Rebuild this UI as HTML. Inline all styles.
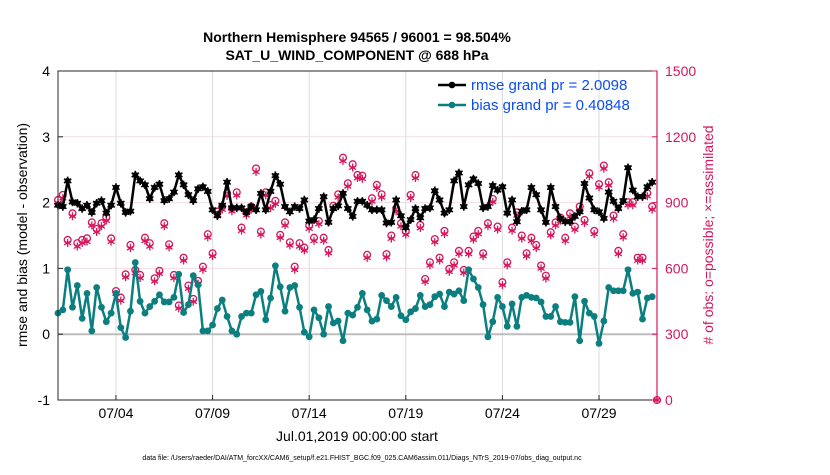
<!DOCTYPE html>
<html><head><meta charset="utf-8">
<style>
body{margin:0;background:#fff;width:830px;height:470px;overflow:hidden;font-family:"Liberation Sans",sans-serif}
svg text{font-family:"Liberation Sans",sans-serif}
</style></head>
<body>
<svg id="chart" width="830" height="470" xmlns="http://www.w3.org/2000/svg">
<text x="357" y="42" font-size="14" font-weight="bold" text-anchor="middle">Northern Hemisphere 94565 / 96001 = 98.504%</text>
<text x="357" y="60" font-size="14" font-weight="bold" text-anchor="middle">SAT_U_WIND_COMPONENT @ 688 hPa</text>
<text transform="translate(27,235) rotate(-90)" font-size="14" text-anchor="middle">rmse and bias (model - observation)</text>
<text transform="translate(713,235) rotate(-90)" font-size="14" fill="#d6175e" text-anchor="middle"># of obs: o=possible; ×=assimilated</text>
<text x="357" y="441" font-size="14" text-anchor="middle">Jul.01,2019 00:00:00 start</text>
<text x="362" y="460" font-size="7" text-anchor="middle">data file: /Users/raeder/DAI/ATM_forcXX/CAM6_setup/f.e21.FHIST_BGC.f09_025.CAM6assim.011/Diags_NTrS_2019-07/obs_diag_output.nc</text>
<g id="plot"></g>
</svg>
<script>
const xTickLabels=["07/04","07/09","07/14","07/19","07/24","07/29"];
const xTickDays=[3,8,13,18,23,28];
const yTicksLeft=[-1,0,1,2,3,4];
const yTicksRight=[0,300,600,900,1200,1500];
const rmse=[1.96,1.94,2.33,2.01,1.99,1.91,1.96,1.85,1.99,2.03,1.84,1.96,2.23,1.99,1.85,1.87,2.42,2.33,2.27,2.06,2.23,2.28,2.03,2.06,2.16,2.42,2.27,2.12,2.03,2.21,2.24,2.17,1.89,1.80,1.96,2.31,1.92,1.92,1.92,1.85,1.94,1.89,2.14,1.89,2.17,2.41,2.28,1.94,1.86,1.94,1.91,2.04,1.72,1.74,1.91,2.09,1.70,1.91,1.95,2.14,1.91,1.79,
2.02,2.02,1.96,1.89,1.89,1.89,1.69,1.70,2.04,1.80,1.62,1.74,1.91,1.77,1.91,1.92,2.18,2.04,1.84,1.89,2.33,2.45,1.94,2.27,2.36,2.29,1.92,1.94,2.26,2.19,2.24,1.84,2.04,1.71,1.87,1.89,2.23,2.12,1.89,1.70,2.23,1.94,1.76,1.71,1.71,1.79,1.86,2.29,2.07,1.89,1.86,1.76,2.16,2.02,1.91,2.03,2.53,2.19,2.09,2.09,2.24,2.31];
const bias=[0.32,0.37,0.98,0.41,0.74,0.24,0.62,0.05,0.71,0.41,0.19,0.32,0.62,0.10,-0.05,0.35,1.09,0.50,0.32,0.42,0.50,0.60,0.49,0.49,0.56,0.91,0.33,0.45,0.89,0.75,0.05,0.05,0.14,0.39,0.52,0.27,0.05,0.00,0.27,0.32,0.32,0.60,0.65,0.22,0.55,1.04,0.72,0.35,0.71,0.74,0.41,0.03,-0.04,0.37,0.25,0.00,0.42,0.17,0.20,-0.10,0.32,0.29,
0.41,0.62,0.37,0.20,0.23,0.59,0.51,0.42,0.56,0.28,0.22,0.34,0.39,0.59,0.42,0.45,0.57,0.61,0.42,0.64,0.61,0.66,0.51,0.98,0.84,0.71,0.45,-0.04,0.19,0.56,0.42,0.12,0.46,0.12,0.56,0.59,0.56,0.55,0.49,0.27,0.27,0.42,0.19,0.18,0.18,0.57,-0.10,0.50,0.32,0.27,-0.14,0.20,0.71,0.66,0.66,0.66,0.98,0.62,0.64,0.23,0.55,0.57];
const possible=[912,935,730,851,715,730,737,810,780,806,832,737,497,467,573,707,593,570,740,715,555,589,806,710,570,431,649,522,461,543,608,756,669,859,882,943,874,947,786,856,882,1056,768,947,889,908,753,810,719,608,715,695,795,740,816,740,684,886,938,1105,988,1075,
1026,1023,662,920,981,938,665,750,874,806,768,935,1026,798,552,628,734,649,771,598,628,680,593,680,745,771,669,806,917,791,537,628,786,856,750,669,740,707,613,567,765,810,832,740,851,791,882,821,1034,771,984,1069,993,841,680,756,902,902,649,649,943,882,0];
const assimilated=[898,920,716,838,700,716,722,796,766,792,818,722,484,453,560,693,580,556,726,700,541,576,792,696,556,418,636,508,448,530,594,742,656,845,868,930,860,933,772,842,868,1040,754,933,875,894,740,796,705,594,700,682,781,726,802,726,670,872,924,1090,974,1060,
1012,1009,648,906,967,924,651,736,860,792,754,921,1012,784,539,614,720,636,757,585,614,666,580,666,731,757,656,792,903,777,524,614,772,842,736,656,726,693,600,554,751,796,818,726,837,777,868,807,1020,757,970,1055,979,827,666,742,888,888,636,636,929,868,0];

const L=58,R=657,T=71,B=400,NS="http://www.w3.org/2000/svg";
const xs=d=>L+d*(R-L)/31;
const yl=v=>B-(v+1)*(B-T)/5;
const yr=c=>B-c*(B-T)/1500;
const g=document.getElementById('plot');
function mk(tag,at,parent){const e=document.createElementNS(NS,tag);for(const k in at)e.setAttribute(k,at[k]);(parent||g).appendChild(e);return e;}
function star(x,y,r,color,w){
 const d=`M${x},${y-r}L${x},${y+r}M${x-r*0.87},${y-r/2}L${x+r*0.87},${y+r/2}M${x-r*0.87},${y+r/2}L${x+r*0.87},${y-r/2}`;
 return mk('path',{d:d,stroke:color,'stroke-width':w,fill:'none'});
}
yTicksLeft.forEach(v=>{const l=mk('line',{x1:L,x2:R,y1:yl(v),y2:yl(v),stroke:'#f3dce4','stroke-width':1});

});
xTickDays.forEach(d=>{const l=mk('line',{x1:xs(d),x2:xs(d),y1:T,y2:B,stroke:'#dcdcdc','stroke-width':1});

});
const z=mk('line',{x1:L,x2:R,y1:yl(0),y2:yl(0),stroke:'#bdbdbd','stroke-width':2});


possible.forEach((c,i)=>{const e=mk('circle',{cx:xs(i*0.25),cy:yr(c),r:3.4,fill:'none',stroke:'#d6175e','stroke-width':1.3});

});
assimilated.forEach((c,i)=>{const s=star(xs(i*0.25),yr(c),4,'#d6175e',1.3);

});
function series(vals,color,name,isStar){
 const pts=vals.map((v,i)=>xs(i*0.25)+','+yl(v)).join(' ');
 const p=mk('polyline',{points:pts,fill:'none',stroke:color,'stroke-width':2.5,'stroke-linejoin':'round'});
 
 
 vals.forEach((v,i)=>{const c=mk('circle',{cx:xs(i*0.25),cy:yl(v),r:isStar?3:3.4,fill:color});
 
 
 if(isStar)star(xs(i*0.25),yl(v),4.2,color,1.6);});
}
series(rmse,'#000','rmse',true);
series(bias,'#0b7f7f','bias',false);
const ax=mk('rect',{x:L,y:T,width:R-L,height:B-T,fill:'none',stroke:'#262626','stroke-width':1});


const ra=mk('line',{x1:R,x2:R,y1:T,y2:B,stroke:'#d6175e','stroke-width':1.2});


yTicksLeft.forEach(v=>{const t=mk('text',{x:L-8,y:yl(v)+5,'font-size':14,'text-anchor':'end'});t.textContent=v;


mk('line',{x1:L,x2:L+5,y1:yl(v),y2:yl(v),stroke:'#262626'});});
yTicksRight.forEach(c=>{const t=mk('text',{x:R+8,y:yr(c)+5,'font-size':14,fill:'#d6175e'});t.textContent=c;


mk('line',{x1:R-5,x2:R,y1:yr(c),y2:yr(c),stroke:'#d6175e'});});
xTickDays.forEach((d,i)=>{const t=mk('text',{x:xs(d),y:B+18,'font-size':14,'text-anchor':'middle'});t.textContent=xTickLabels[i];


mk('line',{x1:xs(d),x2:xs(d),y1:B,y2:B-5,stroke:'#262626'});});
const lg=mk('g',{});


[['rmse grand pr = 2.0098','#000',85],['bias grand pr = 0.40848','#0b7f7f',105]].forEach(([s,c,y])=>{
 const e=mk('g',{},lg);
 
 
 mk('line',{x1:438,x2:466,y1:y,y2:y,stroke:c,'stroke-width':2.5},e);
 mk('circle',{cx:452,cy:y,r:3.3,fill:c},e);
 const t=mk('text',{x:471,y:y+5,'font-size':15,fill:'#0a4cf5'},e);t.textContent=s;
});
</script>
</body></html>
